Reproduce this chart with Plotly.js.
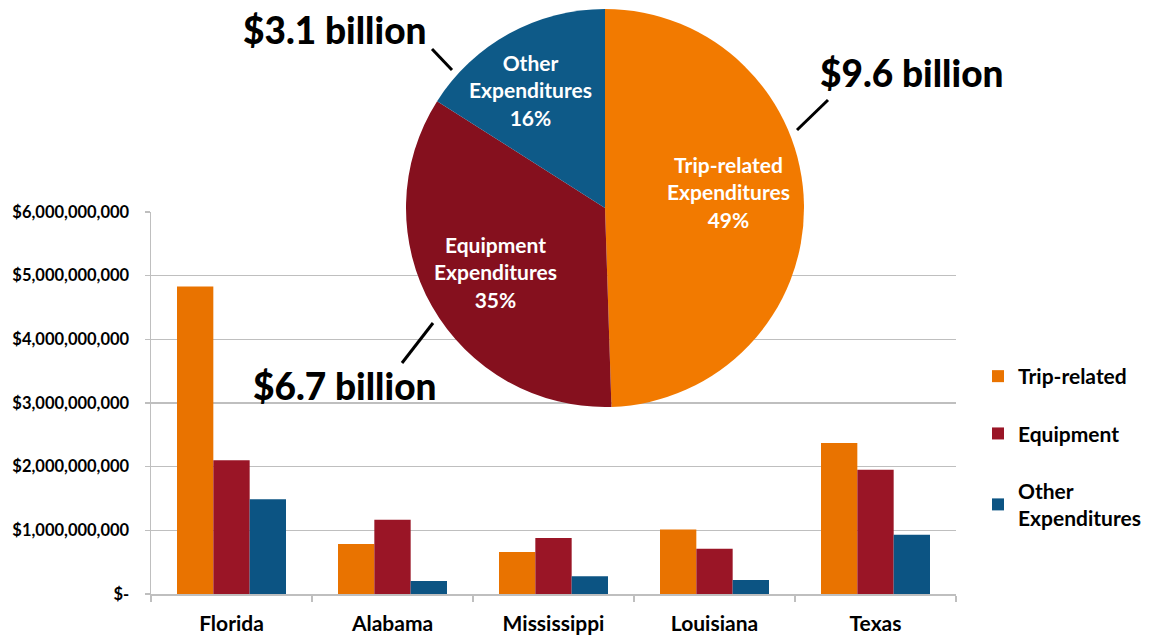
<!DOCTYPE html>
<html>
<head>
<meta charset="utf-8">
<script src="https://cdn.plot.ly/plotly-3.0.1.min.js"></script>
<style>html,body{margin:0;padding:0;background:#fff;}#chart{width:1149px;height:638px;}</style>
</head>
<body>
<div id="chart"></div>
<script>
const states = ["Florida", "Alabama", "Mississippi", "Louisiana", "Texas"];
const tripRelated = [4.83e9, 0.785e9, 0.66e9, 1.015e9, 2.37e9];
const equipment = [2.10e9, 1.165e9, 0.88e9, 0.71e9, 1.95e9];
const otherExp = [1.49e9, 0.205e9, 0.28e9, 0.22e9, 0.93e9];
const seriesNames = ["Trip-related", "Equipment", "Other<br>Expenditures"];

const yTickVals = [0, 1e9, 2e9, 3e9, 4e9, 5e9, 6e9];
const yTickText = ["$-", "$1,000,000,000", "$2,000,000,000", "$3,000,000,000", "$4,000,000,000", "$5,000,000,000", "$6,000,000,000"];

const pieLabels = ["Trip-related<br>Expenditures", "Equipment<br>Expenditures", "Other<br>Expenditures"];
const pieValues = [9.6, 6.7, 3.1];
const pieBillions = ["$9.6 billion", "$6.7 billion", "$3.1 billion"];

const barColors = ["#E97300", "#9A1526", "#0C5483"];
const pieColors = ["#F27A00", "#85101E", "#0E5A88"];
const FONT = "Lato, 'Open Sans', sans-serif";

const W = 1149, H = 638, ML = 151, MR = 193, MT = 0, MB = 44;
const pw = W - ML - MR, ph = H - MT - MB;
const px = v => (v - ML) / pw;
const py = v => (H - MB - v) / ph;

const barSeries = [tripRelated, equipment, otherExp];
const traces = barSeries.map((vals, i) => ({
  type: "bar",
  x: states,
  y: vals,
  name: seriesNames[i],
  legendgroup: "g" + i,
  marker: {color: barColors[i]},
  xaxis: "x", yaxis: "y",
  hoverinfo: "skip"
}));

traces.push({
  type: "pie",
  labels: pieLabels,
  values: pieValues,
  sort: false,
  direction: "clockwise",
  rotation: 0,
  showlegend: false,
  marker: {colors: pieColors, line: {width: 0}},
  textinfo: "none",
  domain: {x: [px(406), px(804)], y: [py(407), py(9)]},
  hoverinfo: "skip"
});

// slice labels (text from the pie arrays, placed inside each slice)
const pieTotal = pieValues.reduce((a, b) => a + b, 0);
const pieLabelPos = [[728, 192], [495, 272], [530, 90]];
const sliceAnnotations = pieLabels.map((lab, i) => ({
  xref: "paper", yref: "paper", x: px(pieLabelPos[i][0]), y: py(pieLabelPos[i][1]),
  xanchor: "center", yanchor: "middle", showarrow: false,
  text: lab + "<br>" + Math.round(pieValues[i] / pieTotal * 100) + "%",
  font: {family: FONT, size: 21, color: "#fff", weight: "bold"}
}));

// Big callout labels
const calloutPos = [[911, 72], [344, 385], [334, 30]];
const calloutAnnotations = pieBillions.map((t, i) => ({
  xref: "paper", yref: "paper", x: px(calloutPos[i][0]), y: py(calloutPos[i][1]),
  xanchor: "center", yanchor: "middle", showarrow: false,
  text: t, font: {family: FONT, size: 37, color: "#000", weight: 900}
}));

const leaders = [
  [828, 100, 797, 130],
  [433, 323, 402, 363],
  [432, 49, 452, 70]
];
const shapes = leaders.map(l => ({
  type: "line", xref: "paper", yref: "paper",
  x0: px(l[0]), y0: py(l[1]), x1: px(l[2]), y1: py(l[3]),
  line: {color: "#000", width: 3}
}));

const layout = {
  width: W, height: H,
  margin: {l: ML, r: MR, t: MT, b: MB},
  paper_bgcolor: "#fff", plot_bgcolor: "#fff",
  barmode: "group", bargap: 0.323, bargroupgap: 0,
  font: {family: FONT, color: "#000"},
  xaxis: {
    type: "category",
    showline: true, linecolor: "#BFBFBF", linewidth: 1.5,
    ticks: "outside", tickson: "boundaries", ticklen: 6, tickcolor: "#BFBFBF", tickwidth: 1.5,
    tickfont: {family: FONT, size: 21, color: "#000", weight: "bold"},
    ticklabelstandoff: 10,
    showgrid: false, fixedrange: true
  },
  yaxis: {
    domain: [0, 382 / 594],
    range: [0, 6e9],
    tickvals: yTickVals, ticktext: yTickText,
    showline: true, linecolor: "#BFBFBF", linewidth: 1.5,
    ticks: "outside", ticklen: 5, tickcolor: "#BFBFBF", tickwidth: 1.5,
    showgrid: true, gridcolor: "#BFBFBF", gridwidth: 1.5,
    zeroline: false,
    tickfont: {family: FONT, size: 16.5, color: "#000", weight: "bold"},
    ticklabelstandoff: 12,
    fixedrange: true
  },
  legend: {
    x: px(978), y: py(356), xanchor: "left", yanchor: "top",
    traceorder: "grouped", tracegroupgap: 27,
    font: {family: FONT, size: 21, color: "#000", weight: "bold"},
    itemwidth: 30
  },
  annotations: sliceAnnotations.concat(calloutAnnotations),
  shapes: shapes
};

Plotly.newPlot("chart", traces, layout, {displayModeBar: false, staticPlot: true});
</script>
</body>
</html>
